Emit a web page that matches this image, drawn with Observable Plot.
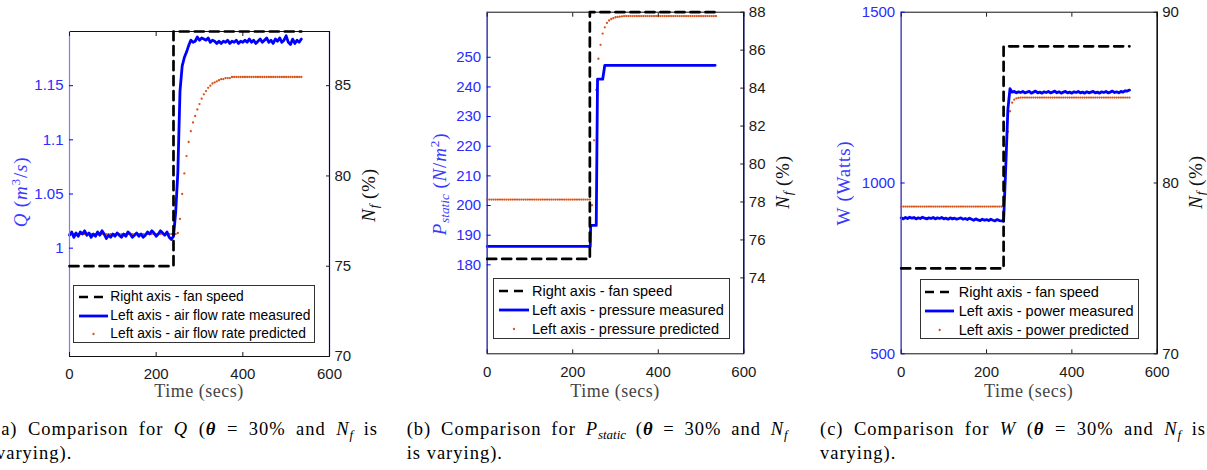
<!DOCTYPE html>
<html><head><meta charset="utf-8">
<script src="https://cdn.jsdelivr.net/npm/d3@7"></script>
<script src="https://cdn.jsdelivr.net/npm/@observablehq/plot@0.6"></script>
<style>
body{margin:0;background:#fff;}
#root{position:relative;width:1207px;height:470px;overflow:hidden;background:#fff;font-family:"Liberation Sans",Arial,sans-serif;}
.ylab{position:absolute;transform:translate(-50%,-50%) rotate(-90deg);white-space:nowrap;font-family:"Liberation Serif","Times New Roman",serif;font-size:19px;letter-spacing:0.8px;line-height:1;}
.xlab{position:absolute;transform:translateX(-50%);white-space:nowrap;font-family:"Liberation Serif",serif;font-size:18px;letter-spacing:0.5px;line-height:1;color:#444;}
.cap{position:absolute;font-family:"Liberation Serif",serif;font-size:18.5px;line-height:18px;color:#000;letter-spacing:1px;}
.cap.j{text-align:justify;text-align-last:justify;}
sub{font-size:0.7em;vertical-align:-0.3em;line-height:0;letter-spacing:0;}
sup{font-size:0.7em;vertical-align:0.5em;line-height:0;}
.legend{position:absolute;border:1px solid #333;background:#fff;box-sizing:border-box;}
.legend .row{position:absolute;left:0;right:0;height:18px;line-height:18px;white-space:nowrap;color:#000;}
.legend svg{position:absolute;top:0;}
.legend span{position:absolute;top:0;}
</style></head>
<body><div id="root"></div>
<script>
// ---------- data ----------
const timeStep = 5;
const tGrid = d3.range(0, 540, timeStep); // sample times 0..535 s
const xDomain = [0, 600];
const xTicks = [0, 200, 400, 600];

const fanTime = [0, 240, 240, 535];
const fanSpeed = [75, 75, 88, 88];

// (a) air flow rate Q
const qMeasured = [
1.012,1.015,1.010,1.014,1.011,1.015,1.013,1.016,1.012,1.014,
1.010,1.013,1.011,1.015,1.012,1.016,1.013,1.009,1.012,1.010,
1.013,1.011,1.014,1.012,1.010,1.013,1.011,1.015,1.013,1.010,
1.012,1.014,1.011,1.013,1.010,1.012,1.015,1.013,1.016,1.014,
1.011,1.013,1.016,1.014,1.012,1.015,1.010,1.008,1.011,1.033,
1.070,1.145,1.168,1.176,1.181,1.187,1.192,1.190,1.191,1.195,
1.192,1.194,1.193,1.192,1.194,1.190,1.192,1.191,1.189,1.191,
1.189,1.191,1.190,1.192,1.189,1.191,1.190,1.192,1.189,1.191,
1.190,1.192,1.190,1.193,1.190,1.192,1.189,1.191,1.193,1.190,
1.192,1.194,1.190,1.192,1.189,1.193,1.191,1.194,1.190,1.192,
1.196,1.190,1.188,1.193,1.189,1.192,1.190,1.193];
const qPredicted = [
1.013,1.013,1.013,1.013,1.013,1.013,1.013,1.013,1.013,1.013,
1.013,1.013,1.013,1.013,1.013,1.013,1.013,1.013,1.013,1.013,
1.013,1.013,1.013,1.013,1.013,1.013,1.013,1.013,1.013,1.013,
1.013,1.013,1.013,1.013,1.013,1.013,1.013,1.013,1.013,1.013,
1.013,1.013,1.013,1.013,1.013,1.013,1.013,1.013,1.013,1.013,
1.014,1.027,1.050,1.069,1.085,1.098,1.108,1.116,1.122,1.128,
1.133,1.138,1.142,1.145,1.148,1.150,1.152,1.153,1.154,1.155,
1.156,1.156,1.157,1.157,1.157,1.158,1.158,1.158,1.158,1.158,
1.158,1.158,1.158,1.158,1.158,1.158,1.158,1.158,1.158,1.158,
1.158,1.158,1.158,1.158,1.158,1.158,1.158,1.158,1.158,1.158,
1.158,1.158,1.158,1.158,1.158,1.158,1.158,1.158];
const qTicks = [1, 1.05, 1.1, 1.15];
const nfTicksA = [70, 75, 80, 85];

// (b) static pressure
const pMeasTime = [0, 241, 242, 255, 258, 270, 275, 533];
const pMeasured = [186.2, 186.2, 193.3, 193.3, 242.6, 242.6, 247.3, 247.3];
const pPredicted = [
202,202,202,202,202,202,202,202,202,202,
202,202,202,202,202,202,202,202,202,202,
202,202,202,202,202,202,202,202,202,202,
202,202,202,202,202,202,202,202,202,202,
202,202,202,202,202,202,202,202,202,200.1,
222,239,249.5,254.2,258,260.1,261.6,262.4,262.9,263.2,
263.5,263.6,263.7,263.8,263.9,263.9,263.9,263.9,263.9,263.9,
263.9,263.9,263.9,263.9,263.9,263.9,263.9,263.9,263.9,263.9,
263.9,263.9,263.9,263.9,263.9,263.9,263.9,263.9,263.9,263.9,
263.9,263.9,263.9,263.9,263.9,263.9,263.9,263.9,263.9,263.9,
263.9,263.9,263.9,263.9,263.9,263.9,263.9,263.9];
const pTicks = [180, 190, 200, 210, 220, 230, 240, 250];
const nfTicksB = [74, 76, 78, 80, 82, 84, 86, 88];

// (c) power W
const wMeasured = [
898,895,899,896,900,897,899,895,898,896,
900,897,895,898,896,899,895,898,896,899,
895,897,894,898,895,897,894,896,898,894,
896,893,897,894,891,895,892,890,894,891,
893,890,894,891,889,893,890,889,888,1045,
1215,1276,1266,1268,1264,1267,1265,1268,1264,1266,
1268,1263,1266,1269,1264,1266,1263,1267,1265,1268,
1264,1266,1269,1264,1267,1263,1266,1268,1264,1266,
1263,1267,1265,1268,1264,1266,1263,1267,1264,1266,
1268,1264,1266,1263,1267,1265,1268,1264,1266,1269,
1265,1267,1264,1268,1266,1270,1269,1272];
const wPredicted = [
931,931,931,931,931,931,931,931,931,931,
931,931,931,931,931,931,931,931,931,931,
931,931,931,931,931,931,931,931,931,931,
931,931,931,931,931,931,931,931,931,931,
931,931,931,931,931,931,931,931,931,1035,
1150,1210,1235,1244,1248,1249,1250,1250,1250,1250,
1250,1250,1250,1250,1250,1250,1250,1250,1250,1250,
1250,1250,1250,1250,1250,1250,1250,1250,1250,1250,
1250,1250,1250,1250,1250,1250,1250,1250,1250,1250,
1250,1250,1250,1250,1250,1250,1250,1250,1250,1250,
1250,1250,1250,1250,1250,1250,1250,1250];
const wTicks = [500, 1000, 1500];
const nfTicksC = [70, 80, 90];

// ---------- styling ----------
const BLUE = "#0000ff", ORANGE = "#d95319", BLUE_TXT = "#2b2bff";
const H = 400;

const zip = (ts, vs) => ts.map((t, i) => ({t, v: vs[i]}));

const panels = [
  {left: 0, width: 400, ml: 69, pw: 260, mt: 31, bottom: 356, xPad: 12,
   leftDomain: [0.9, 1.2], leftTicks: qTicks, rightDomain: [70, 88], rightTicks: nfTicksA,
   meas: zip(tGrid, qMeasured), pred: zip(tGrid, qPredicted),
   leftSpine: "#7b7bff", rightSpine: "#00007a", name: "air flow rate",
   legend: {left: 73.3, top: 285, w: 241.7, h: 58.3, rows: [11.2, 29.5, 47.8], s0: 4.4, s1: 33.4, tx: 36, fs: 13.8},
   ylabL: {x: 20, y: 192, html: '<i>Q</i> (<i>m</i><sup>3</sup>/<i>s</i>)'},
   ylabR: {x: 368, y: 195},
   cap: {left: -6, w: 384, l1: '(a) Comparison for <i>Q</i> (<b><i>θ</i></b> = 30% and <i>N<sub>f</sub></i> is', l2: 'varying).', l2x: -4}
  },
  {left: 400, width: 400, ml: 86.7, pw: 256.6, mt: 11.7, bottom: 353.3, xPad: 13,
   leftDomain: [150, 265.2], leftTicks: pTicks, rightDomain: [70, 88], rightTicks: nfTicksB,
   meas: zip(pMeasTime, pMeasured), pred: zip(tGrid, pPredicted),
   leftSpine: "#4444ff", rightSpine: "#00007a", name: "pressure",
   legend: {left: 493.3, top: 278.3, w: 236.7, h: 60.7, rows: [12.2, 31.2, 50.2], s0: 4.4, s1: 34.4, tx: 37.7, fs: 14.5},
   ylabL: {x: 439, y: 184, html: '<i>P<sub>static</sub></i> (<i>N</i>/<i>m</i><sup>2</sup>)'},
   ylabR: {x: 782, y: 182},
   cap: {left: 406.7, w: 381, l1: '(b) Comparison for <i>P<sub>static</sub></i> (<b><i>θ</i></b> = 30% and <i>N<sub>f</sub></i>', l2: 'is varying).', l2x: 406.7}
  },
  {left: 810, width: 397, ml: 90.7, pw: 256, mt: 11.7, bottom: 353.3, xPad: 13,
   leftDomain: [500, 1500], leftTicks: wTicks, rightDomain: [70, 90], rightTicks: nfTicksC,
   meas: zip(tGrid, wMeasured), pred: zip(tGrid, wPredicted),
   leftSpine: "#5a5aff", rightSpine: "#000000", name: "power",
   legend: {left: 920, top: 279, w: 219.3, h: 60, rows: [11.5, 30.5, 49.5], s0: 4, s1: 33.3, tx: 37.7, fs: 14.5},
   ylabL: {x: 843, y: 182.5, html: 'W (Watts)'},
   ylabR: {x: 1195, y: 182},
   cap: {left: 820, w: 386, l1: '(c) Comparison for <i>W</i> (<b><i>θ</i></b> = 30% and <i>N<sub>f</sub></i> is', l2: 'varying).', l2x: 820}
  }
];

const root = document.getElementById("root");
const fan = zip(fanTime, fanSpeed);

function place(el, left, top) {
  el.style.position = "absolute";
  el.style.left = left + "px";
  el.style.top = top + "px";
  root.appendChild(el);
}

for (const p of panels) {
  const common = {
    width: p.width, height: H,
    marginLeft: p.ml, marginRight: p.width - p.ml - p.pw,
    marginTop: p.mt, marginBottom: H - p.bottom,
    style: {background: "transparent", fontFamily: "'Liberation Sans', Arial, sans-serif", fontSize: "15px", overflow: "visible"}
  };
  const leftPlot = Plot.plot({
    ...common,
    x: {domain: xDomain},
    y: {domain: p.leftDomain},
    marks: [
      Plot.frame({stroke: "#111", strokeWidth: 1}),
      Plot.dot(p.pred, {x: "t", y: "v", r: 1.15, fill: ORANGE, stroke: null}),
      Plot.line(p.meas, {x: "t", y: "v", stroke: BLUE, strokeWidth: 2.8, strokeLinejoin: "round"}),
      Plot.ruleX([xDomain[0]], {stroke: p.leftSpine, strokeWidth: 1.2}),
      Plot.axisX({anchor: "bottom", ticks: xTicks, tickSize: 0, tickPadding: p.xPad, tickFormat: d => String(d), color: "#1a1a1a", label: null}),
      Plot.axisX({anchor: "bottom", ticks: xTicks, tickSize: 4, dy: -4, tickFormat: () => "", color: "#1a1a1a", label: null}),
      Plot.axisX({anchor: "top", ticks: xTicks, tickSize: 4, dy: 4, tickFormat: () => "", color: "#1a1a1a", label: null}),
      Plot.axisY({anchor: "left", ticks: p.leftTicks, tickSize: 0, tickPadding: 6, tickFormat: d => String(d), color: BLUE_TXT, label: null}),
      Plot.axisY({anchor: "left", ticks: p.leftTicks, tickSize: 4, dx: 4, tickFormat: () => "", color: BLUE, label: null})
    ]
  });
  const rightPlot = Plot.plot({
    ...common,
    x: {domain: xDomain, axis: null},
    y: {domain: p.rightDomain},
    marks: [
      Plot.line(fan, {x: "t", y: "v", stroke: "#000", strokeWidth: 2.7, strokeDasharray: "9,6"}),
      Plot.ruleX([xDomain[1]], {stroke: p.rightSpine, strokeWidth: 1.2}),
      Plot.axisY({anchor: "right", ticks: p.rightTicks, tickSize: 0, tickPadding: 5, tickFormat: d => String(d), color: "#1a1a1a", label: null}),
      Plot.axisY({anchor: "right", ticks: p.rightTicks, tickSize: 4, dx: -4, tickFormat: () => "", color: "#1a1a1a", label: null})
    ]
  });
  place(leftPlot, p.left, 0);
  place(rightPlot, p.left, 0);

  // axis titles
  const xl = document.createElement("div");
  xl.className = "xlab";
  xl.textContent = "Time (secs)";
  place(xl, p.left + p.ml + p.pw / 2, 382);

  const yl = document.createElement("div");
  yl.className = "ylab";
  yl.style.color = "#3a3aff";
  yl.innerHTML = p.ylabL.html;
  place(yl, p.ylabL.x, p.ylabL.y);

  const yr = document.createElement("div");
  yr.className = "ylab";
  yr.style.color = "#111";
  yr.innerHTML = '<i>N<sub>f</sub></i> (%)';
  place(yr, p.ylabR.x, p.ylabR.y);

  // legend
  const L = p.legend;
  const lg = document.createElement("div");
  lg.className = "legend";
  lg.style.width = L.w + "px";
  lg.style.height = L.h + "px";
  lg.style.fontSize = L.fs + "px";
  const items = [
    {label: "Right axis - fan speed", kind: "dash"},
    {label: `Left axis - ${p.name} measured`, kind: "line"},
    {label: `Left axis - ${p.name} predicted`, kind: "dot"}
  ];
  items.forEach((it, i) => {
    const row = document.createElement("div");
    row.className = "row";
    row.style.top = (L.rows[i] - 9) + "px";
    const sw = L.s1 - L.s0;
    let sample;
    if (it.kind === "dash") sample = `<line x1="0" y1="9" x2="${sw}" y2="9" stroke="#000" stroke-width="2.7" stroke-dasharray="9,6"/>`;
    else if (it.kind === "line") sample = `<line x1="0" y1="9" x2="${sw}" y2="9" stroke="${BLUE}" stroke-width="2.8"/>`;
    else sample = `<circle cx="${sw / 2}" cy="9" r="1.15" fill="${ORANGE}"/>`;
    row.innerHTML = `<svg width="${sw}" height="18" style="left:${L.s0}px">${sample}</svg><span style="left:${L.tx}px">${it.label}</span>`;
    lg.appendChild(row);
  });
  place(lg, L.left, L.top);

  // caption
  const c1 = document.createElement("div");
  c1.className = "cap j";
  c1.style.width = p.cap.w + "px";
  c1.innerHTML = p.cap.l1;
  place(c1, p.cap.left, 420);
  const c2 = document.createElement("div");
  c2.className = "cap";
  c2.style.whiteSpace = "nowrap";
  c2.innerHTML = p.cap.l2;
  place(c2, p.cap.l2x, 444);
}
</script>
</body></html>
